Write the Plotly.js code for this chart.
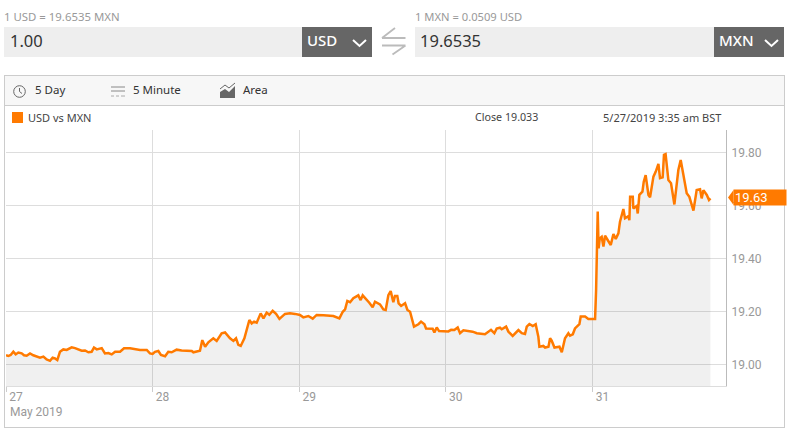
<!DOCTYPE html>
<html><head><meta charset="utf-8">
<script src="https://cdn.plot.ly/plotly-3.0.1.min.js"></script>
<style>
html,body{margin:0;padding:0;background:#fff;width:790px;height:428px;overflow:hidden;font-family:"Noto Sans",sans-serif;}
.a{position:absolute;white-space:nowrap;line-height:1;}
#chart{position:absolute;left:0;top:0;width:790px;height:428px;}
</style></head><body>
<div class="a" style="left:4px;top:11px;font-size:11.400px;color:#999;">1 USD = 19.6535 MXN</div>
<div class="a" style="left:415px;top:11px;font-size:11.200px;color:#999;">1 MXN = 0.0509 USD</div>
<div class="a" style="left:4px;top:27px;width:298px;height:30px;background:#eee;"></div>
<div class="a" style="left:302px;top:27px;width:70px;height:30px;background:#666;"></div>
<div class="a" style="left:415px;top:27px;width:299px;height:30px;background:#eee;"></div>
<div class="a" style="left:714px;top:27px;width:70px;height:30px;background:#666;"></div>
<div class="a" style="left:10px;top:33px;font-size:16.500px;color:#333;">1.00</div>
<div class="a" style="left:420px;top:33px;font-size:16.500px;color:#333;">19.6535</div>
<div class="a" style="left:307px;top:33px;font-size:15px;font-weight:500;color:#fff;">USD</div>
<div class="a" style="left:719px;top:33px;font-size:15px;font-weight:500;color:#fff;">MXN</div>
<svg class="a" style="left:0;top:0" width="790" height="130">
<path d="M353 40l6.500 6 6.500-6M765 40l6.500 6 6.500-6" fill="none" stroke="#fff" stroke-width="2"/>
<path d="M382 38h23.500M382 38l13-10M382 45.500h23.500M405.500 45.500l-13 9" fill="none" stroke="#bbb" stroke-width="1.800"/>
</svg>
<div class="a" style="left:4px;top:75px;width:779px;height:351px;border:1px solid #ccc;"></div>
<div class="a" style="left:5px;top:76px;width:779px;height:29px;background:#f7f7f7;border-bottom:1px solid #ccc;"></div>
<svg class="a" style="left:0;top:76px" width="300" height="30">
<circle cx="19.500" cy="15.500" r="5.800" fill="none" stroke="#666" stroke-width="1"/>
<path d="M19.500 12V15.500l2.500 2" fill="none" stroke="#666" stroke-width="1"/>
<path d="M111 11h14M111 15h14" stroke="#888" stroke-width="1"/>
<path d="M111 20h3M116 20h3M121 20h4" stroke="#aaa" stroke-width="1"/>
<path d="M220 22v-6l5-3 4 3 6-6v12z" fill="#666"/>
<path d="M220 13l5-4 4 3 6-5" fill="none" stroke="#666" stroke-width="1"/>
</svg>
<div class="a" style="left:35px;top:84px;font-size:11.500px;color:#333;">5 Day</div>
<div class="a" style="left:133px;top:84px;font-size:11.500px;color:#333;">5 Minute</div>
<div class="a" style="left:243px;top:84px;font-size:11.500px;color:#333;">Area</div>
<div class="a" style="left:12px;top:112px;width:11px;height:11px;background:#ff7a00;"></div>
<div class="a" style="left:28px;top:112px;font-size:11px;color:#444;">USD vs MXN</div>
<div class="a" style="left:475px;top:112px;font-size:10.700px;color:#444;">Close 19.033</div>
<div class="a" style="left:603px;top:112px;font-size:11px;color:#444;">5/27/2019 3:35 am BST</div>
<div id="chart"></div>
<script>
const days = [27.000,27.016,27.032,27.050,27.066,27.084,27.107,27.123,27.141,27.164,27.186,27.209,27.232,27.255,27.277,27.300,27.318,27.334,27.350,27.368,27.391,27.414,27.448,27.471,27.493,27.516,27.539,27.562,27.584,27.600,27.619,27.653,27.675,27.698,27.721,27.744,27.778,27.805,27.846,27.880,27.914,27.960,27.982,
28.000,28.016,28.039,28.057,28.085,28.107,28.130,28.164,28.198,28.267,28.278,28.323,28.339,28.358,28.380,28.414,28.437,28.471,28.494,28.528,28.551,28.569,28.585,28.601,28.626,28.642,28.660,28.676,28.692,28.710,28.737,28.756,28.778,28.796,28.819,28.842,28.865,28.903,28.937,28.972,
29.005,29.028,29.062,29.092,29.119,29.165,29.233,29.274,29.297,29.313,29.328,29.347,29.369,29.403,29.419,29.433,29.460,29.478,29.501,29.517,29.551,29.574,29.590,29.608,29.624,29.642,29.653,29.669,29.678,29.695,29.722,29.738,29.756,29.783,29.813,29.831,29.854,29.865,29.910,29.922,29.938,29.954,
30.017,30.036,30.058,30.081,30.097,30.120,30.183,30.211,30.267,30.308,30.331,30.347,30.369,30.381,30.411,30.427,30.456,30.495,30.518,30.540,30.552,30.570,30.593,30.613,30.631,30.638,30.665,30.677,30.700,30.711,30.722,30.741,30.775,30.791,30.813,30.836,30.847,30.866,30.881,30.911,30.920,30.950,30.972,
31.018,31.025,31.036,31.042,31.050,31.063,31.075,31.086,31.109,31.125,31.143,31.159,31.177,31.188,31.211,31.222,31.245,31.252,31.257,31.275,31.279,31.302,31.309,31.320,31.341,31.350,31.363,31.382,31.393,31.416,31.432,31.450,31.461,31.479,31.488,31.499,31.518,31.536,31.559,31.586,31.602,31.620,31.643,31.661,31.673,31.689,31.711,31.734,31.745,31.757,31.780,31.795,31.805];
const rates = [19.035,19.032,19.036,19.048,19.038,19.045,19.042,19.035,19.033,19.042,19.035,19.031,19.026,19.030,19.019,19.014,19.026,19.023,19.017,19.048,19.057,19.055,19.065,19.062,19.057,19.052,19.053,19.046,19.048,19.064,19.057,19.062,19.042,19.043,19.038,19.048,19.048,19.061,19.061,19.057,19.055,19.055,19.042,
19.040,19.048,19.051,19.036,19.031,19.048,19.046,19.056,19.053,19.051,19.046,19.052,19.092,19.067,19.084,19.099,19.089,19.118,19.121,19.099,19.089,19.099,19.074,19.070,19.099,19.133,19.168,19.155,19.162,19.158,19.193,19.174,19.196,19.188,19.203,19.191,19.172,19.191,19.193,19.191,
19.187,19.178,19.183,19.173,19.187,19.186,19.183,19.174,19.199,19.208,19.240,19.235,19.250,19.261,19.243,19.261,19.246,19.233,19.216,19.237,19.227,19.208,19.206,19.262,19.277,19.235,19.259,19.259,19.231,19.221,19.231,19.206,19.199,19.143,19.152,19.162,19.152,19.136,19.135,19.121,19.140,19.126,
19.125,19.131,19.130,19.140,19.118,19.129,19.124,19.118,19.114,19.131,19.118,19.136,19.139,19.133,19.143,19.124,19.108,19.130,19.118,19.115,19.143,19.153,19.145,19.152,19.105,19.067,19.070,19.064,19.067,19.099,19.090,19.064,19.067,19.046,19.099,19.118,19.109,19.114,19.136,19.152,19.181,19.181,19.172,
19.172,19.281,19.577,19.438,19.476,19.482,19.445,19.486,19.464,19.451,19.492,19.474,19.495,19.539,19.587,19.552,19.560,19.545,19.633,19.633,19.589,19.598,19.570,19.640,19.652,19.690,19.715,19.640,19.631,19.709,19.728,19.757,19.703,19.706,19.791,19.794,19.696,19.684,19.604,19.734,19.772,19.721,19.646,19.633,19.608,19.581,19.658,19.661,19.627,19.658,19.640,19.621,19.627];
const dayTicks = [27,28,29,30,31];
const dayLabels = ["27","28","29","30","31"];
const rateTicks = [19.0,19.2,19.4,19.6,19.8];
const rateLabels = ["19.00","19.20","19.40","19.60","19.80"];
const lastRate = 19.63;
const monthLabel = "May 2019";
const seriesName = "USD vs MXN";

const orange = "#ff7a00";
Plotly.newPlot("chart", [{
  type: "scatter", mode: "lines", name: seriesName, x: days, y: rates,
  line: {color: orange, width: 2.500}, fill: "tozeroy", fillcolor: "rgba(0,0,0,0.06)"
}], {
  width: 790, height: 428,
  margin: {l: 6, r: 64, t: 130, b: 42},
  paper_bgcolor: "rgba(0,0,0,0)", plot_bgcolor: "rgba(0,0,0,0)",
  showlegend: false, hovermode: false,
  font: {family: "Roboto, sans-serif", size: 12, color: "#999"},
  xaxis: {
    range: [27, 31.911], tickmode: "array", tickvals: dayTicks, ticktext: dayLabels,
    showgrid: true, gridcolor: "#ddd", gridwidth: 1, zeroline: false,
    showline: true, linecolor: "#ddd", ticks: "outside", ticklen: 5, tickcolor: "#ccc",
    ticklabelshift: 10, ticklabelstandoff: -5, tickfont: {size: 12, color: "#999"}
  },
  yaxis: {
    side: "right", range: [18.9189, 19.885], tickmode: "array", tickvals: rateTicks, ticktext: rateLabels,
    showgrid: true, gridcolor: "#ddd", gridwidth: 1, zeroline: false,
    showline: true, linecolor: "#bbb", ticks: "", ticklabelstandoff: 2, tickfont: {size: 12, color: "#999"}
  },
  shapes: [{
    type: "path", xref: "paper", xsizemode: "pixel", xanchor: 1,
    yref: "y", ysizemode: "pixel", yanchor: lastRate,
    path: "M2,0 L7.500,-7.500 L7.500,7.500 Z", fillcolor: orange, line: {width: 0}
  }],
  annotations: [{
    xref: "paper", yref: "y", x: 1, y: lastRate, xanchor: "left", yanchor: "middle", xshift: 7,
    text: lastRate.toFixed(2), showarrow: false, bgcolor: orange, width: 50, height: 13, align: "left",
    borderpad: 1, font: {family: "Roboto, sans-serif", size: 13, color: "#fff"}
  },{
    xref: "paper", yref: "paper", x: 0, y: 0, xanchor: "left", yanchor: "top", xshift: 2, yshift: -17,
    text: monthLabel, showarrow: false, font: {family: "Roboto, sans-serif", size: 12, color: "#999"}
  }]
}, {displayModeBar: false, staticPlot: true});
</script>
</body></html>
